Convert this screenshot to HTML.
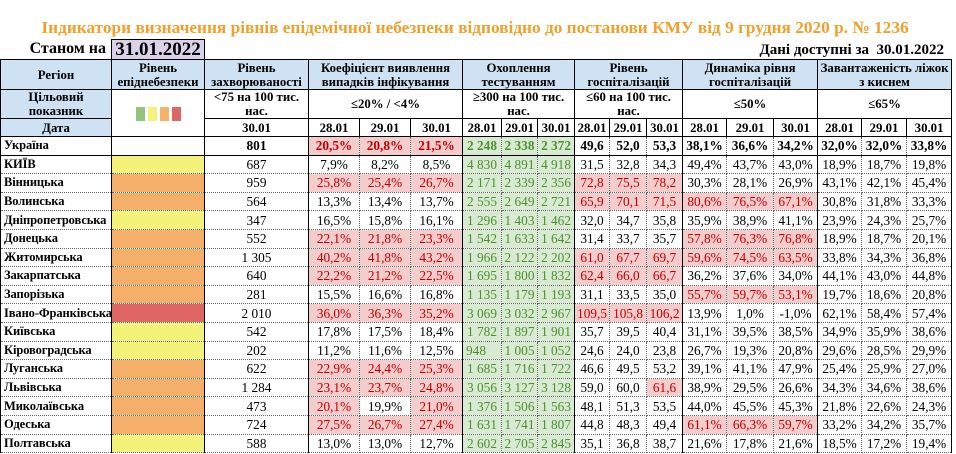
<!DOCTYPE html>
<html><head><meta charset="utf-8"><style>
body{margin:0;width:956px;height:454px;overflow:hidden;background:#fff;font-family:"Liberation Serif",serif;position:relative}
.t{position:absolute;left:0;top:18px;width:950px;text-align:center;color:#f0a02c;font-weight:bold;font-size:17.3px}
.s{position:absolute;left:0;top:40px;width:106px;text-align:right;font-weight:bold;font-size:16px}
.d{position:absolute;left:111px;top:39px;width:92px;height:19px;background:#d9d2e9;border:1px solid #000;border-bottom:none;font-weight:bold;font-size:19px;text-align:center;line-height:20px}
.a{position:absolute;right:12px;top:42px;font-weight:bold;font-size:15px}
table{position:absolute;left:0;top:59px;border-collapse:collapse;table-layout:fixed;width:951px;font-size:13.3px}
td{padding:0;text-align:center;border:1px dotted #666;white-space:nowrap;overflow:hidden;line-height:15px}
thead td{border:1px solid #000;font-weight:bold;font-size:12.8px;line-height:14px}
.b{background:#cfe2f3}
td.r{text-align:left;font-weight:bold;padding-left:3px;border-left:1px solid #000;border-right:1.5px solid #000;font-size:12.5px;letter-spacing:-0.1px}
tbody tr{height:18.6px}
.Y{background:#f3f37a}.O{background:#f4b06a}.R{background:#e06666}
td.L{border-right:1.5px solid #000}
.p{background:#f4cccc;color:#c00000}
.n{background:#d9ead3;color:#4e8f2e}
.U td{font-weight:bold;height:17px;border-top:1.5px solid #000;border-bottom:1.5px solid #000}
.sq{display:inline-block;width:9px;height:14px;margin:0 1.5px;vertical-align:middle}
</style></head><body>
<div class="t">Індикатори визначення рівнів епідемічної небезпеки відповідно до постанови КМУ від 9 грудня 2020 р. № 1236</div>
<div class="s">Станом на</div><div class="d">31.01.2022</div>
<div class="a">Дані доступні за &nbsp;30.01.2022</div>
<table>
<colgroup><col style="width:111px"><col style="width:93px"><col style="width:104px"><col style="width:51px"><col style="width:51px"><col style="width:52px"><col style="width:39px"><col style="width:36px"><col style="width:37px"><col style="width:35px"><col style="width:37px"><col style="width:36px"><col style="width:44px"><col style="width:47px"><col style="width:44px"><col style="width:44px"><col style="width:45px"><col style="width:45px"></colgroup>
<thead>
<tr style="height:30px"><td class="b">Регіон</td><td class="b">Рівень<br>епіднебезпеки</td><td class="b">Рівень<br>захворюваності</td><td class="b" colspan="3">Коефіцієнт виявлення<br>випадків інфікування</td><td class="b" colspan="3">Охоплення<br>тестуванням</td><td class="b" colspan="3">Рівень<br>госпіталізацій</td><td class="b" colspan="3">Динаміка рівня<br>госпіталізацій</td><td class="b" colspan="3">Завантаженість ліжок<br>з киснем</td></tr>
<tr style="height:29px"><td class="b">Цільовий<br>показник</td><td rowspan="2"><span class="sq" style="background:#93c47d"></span><span class="sq" style="background:#f3f37a"></span><span class="sq" style="background:#f6b26b"></span><span class="sq" style="background:#e06666"></span></td><td>&lt;75 на 100 тис.<br>нас.</td><td colspan="3">≤20% / &lt;4%</td><td colspan="3">≥300 на 100 тис.<br>нас.</td><td colspan="3">≤60 на 100 тис.<br>нас.</td><td colspan="3">≤50%</td><td colspan="3">≤65%</td></tr>
<tr style="height:18px"><td class="b">Дата</td><td>30.01</td><td>28.01</td><td>29.01</td><td>30.01</td><td>28.01</td><td>29.01</td><td>30.01</td><td>28.01</td><td>29.01</td><td>30.01</td><td>28.01</td><td>29.01</td><td>30.01</td><td>28.01</td><td>29.01</td><td>30.01</td></tr>
</thead>
<tbody>
<tr class="U"><td class="r">Україна</td><td class="L"></td><td class="L">801</td><td class="p">20,5%</td><td class="p">20,8%</td><td class="p L">21,5%</td><td class="n">2 248</td><td class="n">2 338</td><td class="n L">2 372</td><td>49,6</td><td>52,0</td><td class="L">53,3</td><td>38,1%</td><td>36,6%</td><td class="L">34,2%</td><td>32,0%</td><td>32,0%</td><td class="L">33,8%</td></tr>
<tr><td class="r">КИЇВ</td><td class="Y L"></td><td class="L">687</td><td>7,9%</td><td>8,2%</td><td class="L">8,5%</td><td class="n">4 830</td><td class="n">4 891</td><td class="n L">4 918</td><td>31,5</td><td>32,8</td><td class="L">34,3</td><td>49,4%</td><td>43,7%</td><td class="L">43,0%</td><td>18,9%</td><td>18,7%</td><td class="L">19,8%</td></tr>
<tr><td class="r">Вінницька</td><td class="O L"></td><td class="L">959</td><td class="p">25,8%</td><td class="p">25,4%</td><td class="p L">26,7%</td><td class="n">2 171</td><td class="n">2 339</td><td class="n L">2 356</td><td class="p">72,8</td><td class="p">75,5</td><td class="p L">78,2</td><td>30,3%</td><td>28,1%</td><td class="L">26,9%</td><td>43,1%</td><td>42,1%</td><td class="L">45,4%</td></tr>
<tr><td class="r">Волинська</td><td class="O L"></td><td class="L">564</td><td>13,3%</td><td>13,4%</td><td class="L">13,7%</td><td class="n">2 555</td><td class="n">2 649</td><td class="n L">2 721</td><td class="p">65,9</td><td class="p">70,1</td><td class="p L">71,5</td><td class="p">80,6%</td><td class="p">76,5%</td><td class="p L">67,1%</td><td>30,8%</td><td>31,8%</td><td class="L">33,3%</td></tr>
<tr><td class="r">Дніпропетровська</td><td class="Y L"></td><td class="L">347</td><td>16,5%</td><td>15,8%</td><td class="L">16,1%</td><td class="n">1 296</td><td class="n">1 403</td><td class="n L">1 462</td><td>32,0</td><td>34,7</td><td class="L">35,8</td><td>35,9%</td><td>38,9%</td><td class="L">41,1%</td><td>23,9%</td><td>24,3%</td><td class="L">25,7%</td></tr>
<tr><td class="r">Донецька</td><td class="O L"></td><td class="L">552</td><td class="p">22,1%</td><td class="p">21,8%</td><td class="p L">23,3%</td><td class="n">1 542</td><td class="n">1 633</td><td class="n L">1 642</td><td>31,4</td><td>33,7</td><td class="L">35,7</td><td class="p">57,8%</td><td class="p">76,3%</td><td class="p L">76,8%</td><td>18,9%</td><td>18,7%</td><td class="L">20,1%</td></tr>
<tr><td class="r">Житомирська</td><td class="O L"></td><td class="L">1 305</td><td class="p">40,2%</td><td class="p">41,8%</td><td class="p L">43,2%</td><td class="n">1 966</td><td class="n">2 122</td><td class="n L">2 202</td><td class="p">61,0</td><td class="p">67,7</td><td class="p L">69,7</td><td class="p">59,6%</td><td class="p">74,5%</td><td class="p L">63,5%</td><td>33,8%</td><td>34,3%</td><td class="L">36,8%</td></tr>
<tr><td class="r">Закарпатська</td><td class="O L"></td><td class="L">640</td><td class="p">22,2%</td><td class="p">21,2%</td><td class="p L">22,5%</td><td class="n">1 695</td><td class="n">1 800</td><td class="n L">1 832</td><td class="p">62,4</td><td class="p">66,0</td><td class="p L">66,7</td><td>36,2%</td><td>37,6%</td><td class="L">34,0%</td><td>44,1%</td><td>43,0%</td><td class="L">44,8%</td></tr>
<tr><td class="r">Запорізька</td><td class="O L"></td><td class="L">281</td><td>15,5%</td><td>16,6%</td><td class="L">16,8%</td><td class="n">1 135</td><td class="n">1 179</td><td class="n L">1 193</td><td>31,1</td><td>33,5</td><td class="L">35,0</td><td class="p">55,7%</td><td class="p">59,7%</td><td class="p L">53,1%</td><td>19,7%</td><td>18,6%</td><td class="L">20,8%</td></tr>
<tr><td class="r">Івано-Франківська</td><td class="R L"></td><td class="L">2 010</td><td class="p">36,0%</td><td class="p">36,3%</td><td class="p L">35,2%</td><td class="n">3 069</td><td class="n">3 032</td><td class="n L">2 967</td><td class="p">109,5</td><td class="p">105,8</td><td class="p L">106,2</td><td>13,9%</td><td>1,0%</td><td class="L">-1,0%</td><td>62,1%</td><td>58,4%</td><td class="L">57,4%</td></tr>
<tr><td class="r">Київська</td><td class="Y L"></td><td class="L">542</td><td>17,8%</td><td>17,5%</td><td class="L">18,4%</td><td class="n">1 782</td><td class="n">1 897</td><td class="n L">1 901</td><td>35,7</td><td>39,5</td><td class="L">40,4</td><td>31,1%</td><td>39,5%</td><td class="L">38,5%</td><td>34,9%</td><td>35,9%</td><td class="L">38,6%</td></tr>
<tr><td class="r">Кіровоградська</td><td class="Y L"></td><td class="L">202</td><td>11,2%</td><td>11,6%</td><td class="L">12,5%</td><td class="n" style="text-align:left;padding-left:3px">948</td><td class="n">1 005</td><td class="n L">1 052</td><td>24,6</td><td>24,0</td><td class="L">23,8</td><td>26,7%</td><td>19,3%</td><td class="L">20,8%</td><td>29,6%</td><td>28,5%</td><td class="L">29,9%</td></tr>
<tr><td class="r">Луганська</td><td class="O L"></td><td class="L">622</td><td class="p">22,9%</td><td class="p">24,4%</td><td class="p L">25,3%</td><td class="n">1 685</td><td class="n">1 716</td><td class="n L">1 722</td><td>46,6</td><td>49,5</td><td class="L">53,2</td><td>39,1%</td><td>41,1%</td><td class="L">47,9%</td><td>25,4%</td><td>25,9%</td><td class="L">27,0%</td></tr>
<tr><td class="r">Львівська</td><td class="O L"></td><td class="L">1 284</td><td class="p">23,1%</td><td class="p">23,7%</td><td class="p L">24,8%</td><td class="n">3 056</td><td class="n">3 127</td><td class="n L">3 128</td><td>59,0</td><td>60,0</td><td class="p L">61,6</td><td>38,9%</td><td>29,5%</td><td class="L">26,6%</td><td>34,3%</td><td>34,6%</td><td class="L">38,6%</td></tr>
<tr><td class="r">Миколаївська</td><td class="O L"></td><td class="L">473</td><td class="p">20,1%</td><td>19,9%</td><td class="p L">21,0%</td><td class="n">1 376</td><td class="n">1 506</td><td class="n L">1 563</td><td>48,1</td><td>51,3</td><td class="L">53,5</td><td>44,0%</td><td>45,5%</td><td class="L">45,3%</td><td>21,8%</td><td>22,6%</td><td class="L">24,3%</td></tr>
<tr><td class="r">Одеська</td><td class="O L"></td><td class="L">724</td><td class="p">27,5%</td><td class="p">26,7%</td><td class="p L">27,4%</td><td class="n">1 631</td><td class="n">1 741</td><td class="n L">1 807</td><td>44,8</td><td>48,3</td><td class="L">49,4</td><td class="p">61,1%</td><td class="p">66,3%</td><td class="p L">59,7%</td><td>33,2%</td><td>34,2%</td><td class="L">35,7%</td></tr>
<tr><td class="r">Полтавська</td><td class="Y L"></td><td class="L">588</td><td>13,0%</td><td>13,0%</td><td class="L">12,7%</td><td class="n">2 602</td><td class="n">2 705</td><td class="n L">2 845</td><td>35,1</td><td>36,8</td><td class="L">38,7</td><td>21,6%</td><td>17,8%</td><td class="L">21,6%</td><td>18,5%</td><td>17,2%</td><td class="L">19,4%</td></tr>
</tbody></table>
</body></html>
